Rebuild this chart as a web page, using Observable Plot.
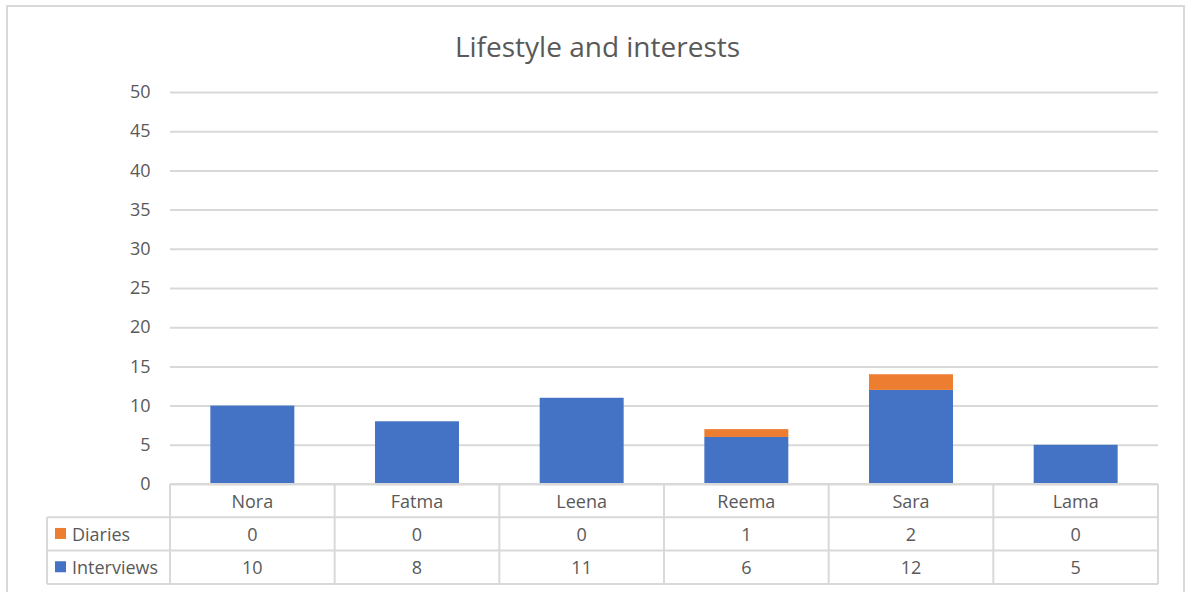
<!DOCTYPE html>
<html>
<head>
<meta charset="utf-8">
<script src="https://cdn.jsdelivr.net/npm/d3@7"></script>
<script src="https://cdn.jsdelivr.net/npm/@observablehq/plot@0.6"></script>
<style>
  html, body { margin: 0; padding: 0; background: #fff; overflow: hidden; }
  #wrap { position: relative; width: 1192px; height: 592px; }
  #border { position: absolute; left: 6px; top: 5px; width: 1179px; height: 620px; border: 2px solid #d9d9d9; box-sizing: border-box; }
  #chart { position: absolute; left: 0; top: 0; }
</style>
</head>
<body>
<div id="wrap"><div id="border"></div><div id="chart"></div></div>
<script>
const title = "Lifestyle and interests";
const categories = ["Nora", "Fatma", "Leena", "Reema", "Sara", "Lama"];
const interviews = [10, 8, 11, 6, 12, 5];
const diaries = [0, 0, 0, 1, 2, 0];
const seriesNames = ["Interviews", "Diaries"];
const seriesColors = ["#4472C4", "#ED7D31"];
const yTicks = [0, 5, 10, 15, 20, 25, 30, 35, 40, 45, 50];
const tableRows = [["Diaries", diaries], ["Interviews", interviews]];

const data = [];
categories.forEach((c, i) => data.push({name: c, series: "Interviews", value: interviews[i]}));
categories.forEach((c, i) => data.push({name: c, series: "Diaries", value: diaries[i]}));

const textColor = "#595959";
const gridColor = "#d9d9d9";
const font = "'Open Sans', 'Noto Sans', sans-serif";
const fs = 18;

function tableMark(index, scales, values, dimensions) {
  const x = scales.x;
  const n = categories.length;
  const plotW = dimensions.width - dimensions.marginLeft - dimensions.marginRight;
  const step = plotW / n;
  const bw = x.bandwidth ? x.bandwidth() : 0;
  const top = dimensions.height - dimensions.marginBottom;
  const rowH = 33.3;
  const right = dimensions.width - dimensions.marginRight;
  const legendLeft = 47;
  const g = d3.create("svg:g");
  const lines = g.append("g").attr("stroke", gridColor).attr("stroke-width", 2).attr("fill", "none");
  const bottom = top + (tableRows.length + 1) * rowH;
  const firstCol = x(categories[0]) + bw / 2 - step / 2;
  lines.append("line").attr("x1", firstCol).attr("x2", right).attr("y1", top).attr("y2", top);
  for (let r = 1; r <= tableRows.length + 1; r++) {
    lines.append("line").attr("x1", legendLeft).attr("x2", right).attr("y1", top + r * rowH).attr("y2", top + r * rowH);
  }
  lines.append("line").attr("x1", legendLeft).attr("x2", legendLeft).attr("y1", top + rowH).attr("y2", bottom);
  categories.forEach((c) => {
    const cx = x(c) + bw / 2;
    lines.append("line").attr("x1", cx - step / 2).attr("x2", cx - step / 2).attr("y1", top).attr("y2", bottom);
  });
  lines.append("line").attr("x1", right).attr("x2", right).attr("y1", top).attr("y2", bottom);
  const t = g.append("g").attr("fill", textColor).attr("font-family", font).attr("font-size", fs).attr("dominant-baseline", "central");
  categories.forEach((c, i) => {
    const cx = x(c) + bw / 2;
    t.append("text").attr("x", cx).attr("y", top + rowH / 2).attr("text-anchor", "middle").text(c);
    tableRows.forEach(([name, vals], r) => {
      t.append("text").attr("x", cx).attr("y", top + (r + 1.5) * rowH).attr("text-anchor", "middle").text(vals[i]);
    });
  });
  tableRows.forEach(([name], r) => {
    const cy = top + (r + 1.5) * rowH;
    const color = seriesColors[seriesNames.indexOf(name)];
    g.append("rect").attr("x", 55).attr("y", cy - 6).attr("width", 11).attr("height", 11).attr("fill", color);
    t.append("text").attr("x", 72).attr("y", cy).attr("text-anchor", "start").text(name);
  });
  return g.node();
}

const chart = Plot.plot({
  width: 1192,
  height: 592,
  marginTop: 92,
  marginLeft: 170,
  marginRight: 34,
  marginBottom: 108,
  style: {fontFamily: font, fontSize: fs + "px", color: textColor, background: "transparent"},
  x: {domain: categories, paddingInner: 0.49, paddingOuter: 0.245, round: false, axis: null},
  y: {domain: [0, 50], axis: null},
  color: {domain: seriesNames, range: seriesColors},
  marks: [
    Plot.gridY(yTicks, {stroke: gridColor, strokeOpacity: 1, strokeWidth: 2}),
    Plot.axisY(yTicks, {tickSize: 0, tickPadding: 20, fontSize: fs, fill: textColor, label: null}),
    Plot.barY(data, Plot.stackY({x: "name", y: "value", fill: "series", order: seriesNames})),
    tableMark,
    Plot.text([title], {frameAnchor: "top", dx: -67, dy: -46, text: (d) => d, fontSize: 28, fill: textColor, fontFamily: font, dy: -55})
  ]
});
document.getElementById("chart").appendChild(chart);
</script>
</body>
</html>
